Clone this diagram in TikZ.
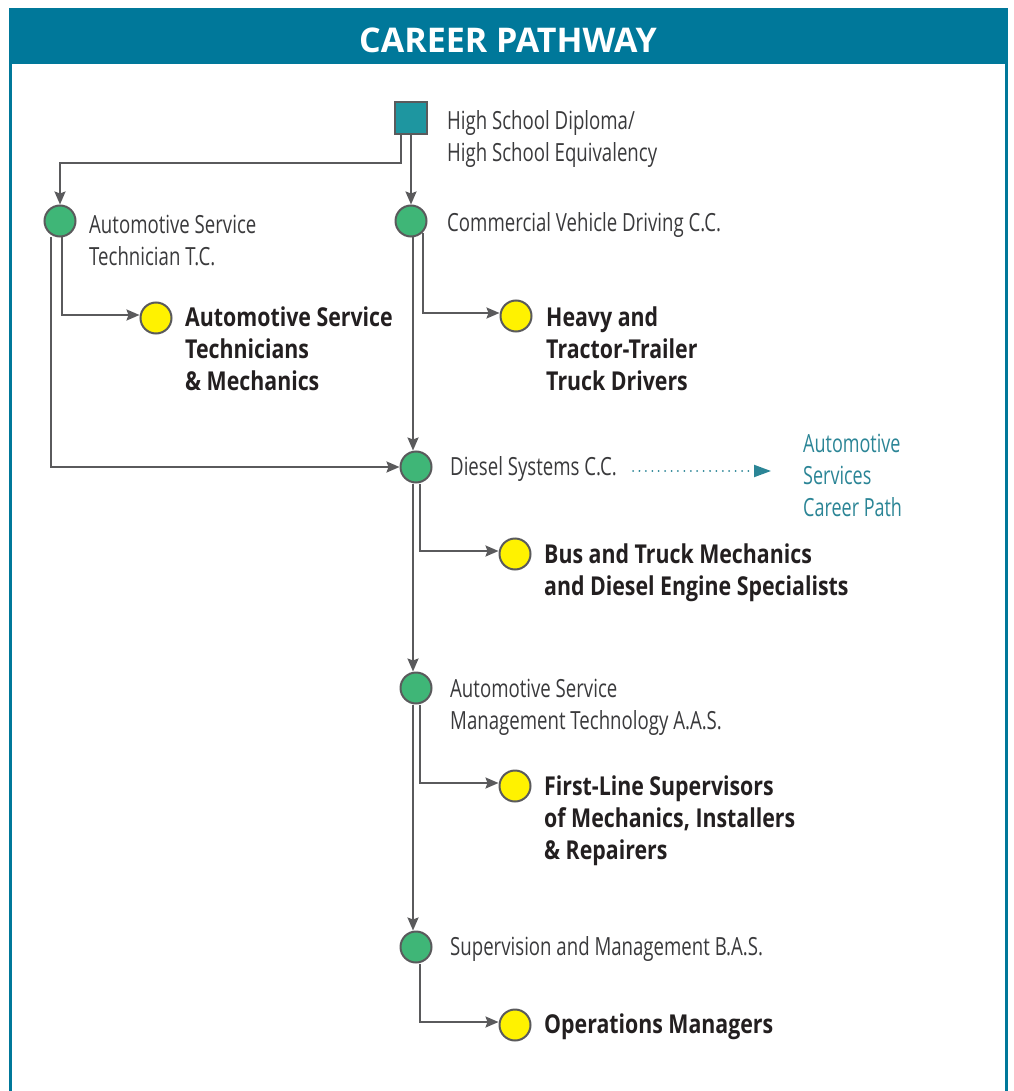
\documentclass[tikz,border=0pt]{standalone}
\usepackage{fontspec}
\setmainfont{Open Sans}[FakeStretch=0.745]
\newfontfamily\boldf{Open Sans}[FakeStretch=0.82]
\newfontfamily\tealf{Open Sans}[FakeStretch=0.72]
\newfontfamily\titlef{Open Sans}
\usetikzlibrary{arrows.meta,calc}
\definecolor{hdr}{HTML}{00789A}
\definecolor{sq}{HTML}{1E96A0}
\definecolor{grn}{HTML}{3FB677}
\definecolor{yel}{HTML}{FFF200}
\definecolor{lin}{HTML}{5A5A5C}
\definecolor{txt}{HTML}{3A3A3C}
\definecolor{btxt}{HTML}{231F20}
\definecolor{tl}{HTML}{2B8596}
\begin{document}
\begin{tikzpicture}[x=1pt,y=-1pt,
  conn/.style={draw=lin,line width=2pt,-{Stealth[length=13pt,width=11pt,inset=2pt]}},
  gdot/.style={circle,fill=grn,draw=lin,line width=2pt,minimum size=31pt,inner sep=0pt},
  ydot/.style={circle,fill=yel,draw=lin,line width=2pt,minimum size=31pt,inner sep=0pt},
  lab/.style={anchor=west,align=left,inner sep=0pt,text=txt,font=\fontsize{25}{32}\selectfont},
  blab/.style={anchor=west,align=left,inner sep=0pt,text=btxt,font=\boldf\fontsize{26}{32}\selectfont\bfseries},
  tlab/.style={anchor=west,align=left,inner sep=0pt,text=tl,font=\tealf\fontsize{25}{32}\selectfont}]
\useasboundingbox (0,0) rectangle (1013,1091);
\fill[white] (0,0) rectangle (1013,1091);
% frame
\fill[hdr] (8.5,8) rectangle (1007.5,64);
\draw[hdr,line width=3pt] (10,64) -- (10,1095);
\draw[hdr,line width=3pt] (1006,64) -- (1006,1095);
\node[text=white,font=\titlef\fontsize{34}{38}\selectfont\bfseries] (title) at (508,40) {CAREER PATHWAY};
% nodes
\node[rectangle,fill=sq,draw=lin,line width=2pt,minimum size=32pt,inner sep=0pt] (hs) at (411,118) {};
\node[lab] (hst) at (447,139) {High School Diploma/\\High School Equivalency};
\node[gdot] (ast) at (60,221) {};
\node[lab] (astt) at (89,241) {Automotive Service\\Technician T.C.};
\node[gdot] (cvd) at (411,221) {};
\node[lab] (cvdt) at (447,225) {Commercial Vehicle Driving C.C.};
\node[ydot] (y1) at (156,318) {};
\node[blab] (y1t) at (185,349) {Automotive Service\\Technicians\\\& Mechanics};
\node[ydot] (y2) at (516,316) {};
\node[blab] (y2t) at (546,349) {Heavy and\\Tractor-Trailer\\Truck Drivers};
\node[gdot] (dsl) at (416,467) {};
\node[lab] (dslt) at (450,469) {Diesel Systems C.C.};
\node[tlab] (asc) at (803,475) {Automotive\\Services\\Career Path};
\node[ydot] (y3) at (515,554) {};
\node[blab] (y3t) at (544,573) {Bus and Truck Mechanics\\and Diesel Engine Specialists};
\node[gdot] (aas) at (416,688) {};
\node[lab] (aast) at (450,707) {Automotive Service\\Management Technology A.A.S.};
\node[ydot] (y4) at (515,786) {};
\node[blab] (y4t) at (544,821) {First-Line Supervisors\\of Mechanics, Installers\\\& Repairers};
\node[gdot] (bas) at (416,947) {};
\node[lab] (bast) at (450,949) {Supervision and Management B.A.S.};
\node[ydot] (y5) at (515,1025) {};
\node[blab] (y5t) at (544,1027) {Operations Managers};
\coordinate (dsend) at (771,471);
% connectors
\draw[conn] ($(hs.south)+(-10,0)$) -- ++(0,28) -| (ast.north);
\draw[conn] (hs.south) -- (cvd.north);
\draw[conn] ($(ast.south)+(-9,0)$) |- (dsl.west);
\draw[conn] ($(ast.south)+(2,0)$) |- ([yshift=3pt]y1.west);
\draw[conn] ($(cvd.south)+(2,0)$) -- ($(dsl.north)+(-3,0)$);
\draw[conn] (cvd.-45) |- ([yshift=3pt]y2.west);
\draw[conn] ($(dsl.south)+(-3,0)$) -- ($(aas.north)+(-3,0)$);
\draw[conn] ($(dsl.south)+(4,0)$) |- ([yshift=3pt]y3.west);
\draw[conn] ($(aas.south)+(-3,0)$) -- ($(bas.north)+(-3,0)$);
\draw[conn] ($(aas.south)+(4,0)$) |- ([yshift=3pt]y4.west);
\draw[conn] ($(bas.south)+(4,0)$) |- ([yshift=3pt]y5.west);
\draw[tl,line width=2pt,dash pattern=on 0.01pt off 6.4pt,line cap=round,-{Triangle[length=17pt,width=12pt]}] ($(dslt.east)+(16,2)$) -- (dsend);
\end{tikzpicture}
\end{document}
